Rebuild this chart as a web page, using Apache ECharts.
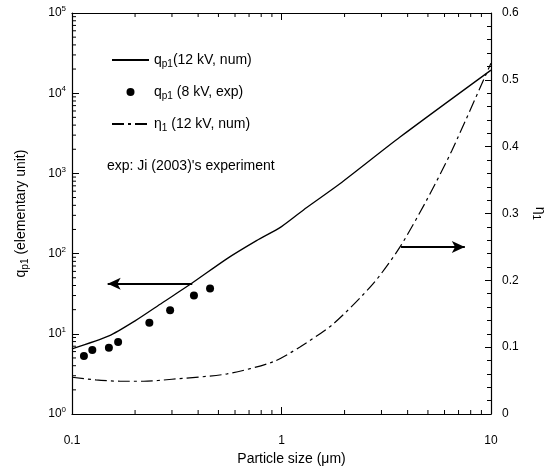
<!DOCTYPE html>
<html>
<head>
<meta charset="utf-8">
<script src="https://cdn.jsdelivr.net/npm/echarts@6/dist/echarts.min.js"></script>
<style>
html, body { margin: 0; padding: 0; background: #fff; }
#chart { width: 554px; height: 470px; }
</style>
</head>
<body>
<div id="chart"></div>
<script>
// q_p1 (12 kV, num) - solid line, left log axis
var qX = [0.1, 0.15, 0.2, 0.27, 0.37, 0.55, 0.76, 1.0, 1.32, 1.9, 3.68, 10];
var qY = [6.5, 9.4, 14.5, 24.4, 42, 86.6, 145, 217, 376, 743, 2840, 19400];

// q_p1 (8 kV, exp) - dots
var dotX = [0.114, 0.125, 0.15, 0.166, 0.234, 0.294, 0.382, 0.456];
var dotY = [5.3, 6.3, 6.7, 7.9, 13.7, 19.6, 30.1, 36.8];

// eta_1 (12 kV, num) - dash-dot line, right axis
var etaX = [0.1, 0.13, 0.17, 0.22, 0.3, 0.55, 0.91, 1.22, 1.77, 2.74, 3.68, 4.93, 6.5, 10];
var etaY = [0.055, 0.051, 0.049, 0.049, 0.052, 0.060, 0.078, 0.100, 0.135, 0.195, 0.25, 0.32, 0.394, 0.525];

// minor tick values of the log axes
var xMinor = [0.2, 0.3, 0.4, 0.5, 0.6, 0.7, 0.8, 0.9, 2, 3, 4, 5, 6, 7, 8, 9];
var yMinor = [];
[1, 10, 100, 1000, 10000].forEach(function (d) {
  for (var m = 2; m <= 9; m++) yMinor.push(m * d);
});

var FONT = '"Liberation Sans", Arial, sans-serif';
var subStyle = { fontSize: 10, lineHeight: 10, verticalAlign: 'bottom', fontFamily: FONT, color: '#000' };

function pairs(xs, ys) {
  return xs.map(function (x, i) { return [x, ys[i]]; });
}

// log minor ticks (2..9 of each decade), placed through the axes' scales
var MIN = 4;
function renderMinorTicks(params, api) {
  if (params.dataIndex > 0) return null;
  var kids = [];
  function tick(x, y, dx, dy) {
    var p = api.coord([x, y]);
    kids.push({ type: 'line', shape: { x1: p[0], y1: p[1], x2: p[0] + dx, y2: p[1] + dy },
      style: { stroke: '#000', lineWidth: 1 } });
  }
  xMinor.forEach(function (v) { tick(v, 1, 0, -MIN); tick(v, 100000, 0, MIN); });
  yMinor.forEach(function (v) { tick(0.1, v, MIN, 0); });
  return { type: 'group', children: kids };
}

var names = ['q_p1(12 kV, num)', 'q_p1 (8 kV, exp)', 'eta_1 (12 kV, num)'];
var legendRich = {};
legendRich[names[0]] = 'q{sub|p1}(12 kV, num)';
legendRich[names[1]] = 'q{sub|p1} (8 kV, exp)';
legendRich[names[2]] = 'η{sub|1} (12 kV, num)';

function axLine() {
  return { show: true, onZero: false, lineStyle: { color: '#000', width: 1.2 } };
}
function majorTick(len) {
  return { show: true, inside: true, length: len, lineStyle: { color: '#000', width: 1 } };
}

var chart = echarts.init(document.getElementById('chart'));
chart.setOption({
  animation: false,
  backgroundColor: '#fff',
  textStyle: { fontFamily: FONT, color: '#000' },
  grid: { left: 72, right: 63, top: 13, bottom: 56, outerBoundsMode: 'none' },
  title: {
    text: "exp: Ji (2003)'s experiment",
    left: 107, top: 159, padding: 0,
    textStyle: { fontSize: 14, fontWeight: 'normal', color: '#000', fontFamily: FONT }
  },
  legend: {
    orient: 'vertical',
    left: 111, top: 51,
    itemWidth: 37, itemHeight: 8, itemGap: 14,
    padding: 0,
    data: [
      { name: names[0], itemStyle: { opacity: 0 } },
      { name: names[1] },
      { name: names[2], itemStyle: { opacity: 0 } }
    ],
    formatter: function (n) { return legendRich[n]; },
    textStyle: { fontSize: 14, lineHeight: 18, color: '#000', fontFamily: FONT, rich: { sub: subStyle } }
  },
  xAxis: [
    {
      type: 'log', min: 0.1, max: 10, position: 'bottom',
      axisLine: axLine(), axisTick: majorTick(7),
      axisLabel: { margin: 21, fontSize: 12, color: '#000', formatter: function (v) { return String(v); } },
      splitLine: { show: false },
      name: 'Particle size (μm)', nameLocation: 'middle', nameGap: 38,
      nameTextStyle: { fontSize: 14, color: '#000', padding: [0, 0, 0, 20] }
    },
    {
      type: 'log', min: 0.1, max: 10, position: 'top',
      axisLine: axLine(), axisTick: majorTick(7),
      axisLabel: { show: false }, splitLine: { show: false }
    }
  ],
  yAxis: [
    {
      type: 'log', min: 1, max: 100000, position: 'left',
      axisLine: axLine(), axisTick: majorTick(7),
      axisLabel: {
        margin: 6, fontSize: 12, color: '#000', lineHeight: 16,
        formatter: function (v) { return '10{sup|' + Math.round(Math.log10(v)) + '}'; },
        rich: { sup: { fontSize: 8, lineHeight: 8, verticalAlign: 'top', color: '#000', fontFamily: FONT } }
      },
      splitLine: { show: false },
      name: 'q{sub|p1} (elementary unit)', nameLocation: 'middle', nameGap: 42,
      nameTextStyle: { fontSize: 14, lineHeight: 18, color: '#000', rich: { sub: subStyle } }
    },
    {
      type: 'value', min: 0, max: 0.6, interval: 0.1, position: 'right',
      axisLine: axLine(), axisTick: majorTick(6),
      minorTick: { show: true, splitNumber: 5, length: MIN, lineStyle: { color: '#000', width: 1 } },
      axisLabel: { margin: 11, fontSize: 12, color: '#000', formatter: function (v) { return String(+v.toFixed(1)); } },
      splitLine: { show: false }, minorSplitLine: { show: false },
      name: 'η{sub|1}', nameLocation: 'middle', nameGap: 40, nameRotate: -90,
      nameTextStyle: { fontSize: 14, lineHeight: 18, color: '#000', rich: { sub: subStyle } }
    }
  ],
  series: [
    {
      name: 'minorTicks', type: 'custom', coordinateSystem: 'cartesian2d', xAxisIndex: 0, yAxisIndex: 0,
      silent: true, clip: false, z: 5, renderItem: renderMinorTicks, data: [[1, 100]]
    },
    {
      name: names[0], type: 'line', xAxisIndex: 0, yAxisIndex: 0,
      data: pairs(qX, qY), smooth: 0.25, symbol: 'none',
      itemStyle: { color: '#000' },
      lineStyle: { color: '#000', width: 1.3 },
      markLine: {
        silent: true, symbol: ['none', 'arrow'], symbolSize: [9, 13],
        label: { show: false },
        lineStyle: { color: '#000', width: 2, type: 'solid' },
        data: [[{ coord: [0.375, 42] }, { coord: [0.148, 42] }]]
      }
    },
    {
      name: names[1], type: 'scatter', xAxisIndex: 0, yAxisIndex: 0,
      data: pairs(dotX, dotY), symbol: 'circle', symbolSize: 8,
      itemStyle: { color: '#000', opacity: 1 }
    },
    {
      name: names[2], type: 'line', xAxisIndex: 0, yAxisIndex: 1,
      data: pairs(etaX, etaY), smooth: 0.25, symbol: 'none',
      itemStyle: { color: '#000' },
      lineStyle: { color: '#000', width: 1.2, type: [12, 4, 3, 4] },
      markLine: {
        silent: true, symbol: ['none', 'arrow'], symbolSize: [9, 13],
        label: { show: false },
        lineStyle: { color: '#000', width: 2, type: 'solid' },
        data: [[{ coord: [3.72, 0.25] }, { coord: [7.5, 0.25] }]]
      }
    }
  ]
});
</script>
</body>
</html>
